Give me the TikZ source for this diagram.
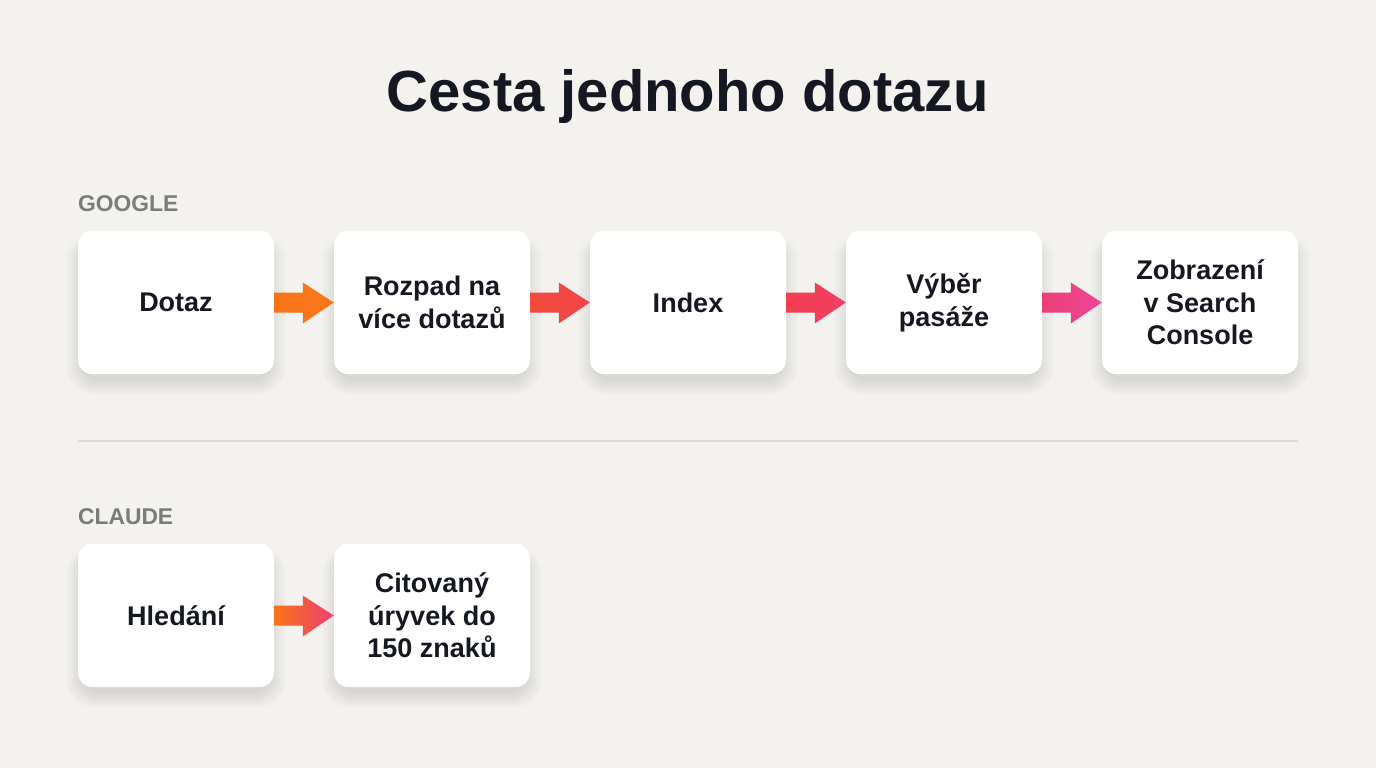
\documentclass[tikz,border=0pt]{standalone}
\usepackage{fontspec}
\setmainfont{Liberation Sans}
\usetikzlibrary{calc}
\definecolor{bg}{HTML}{F3F2EF}
\definecolor{ink}{HTML}{151821}
\definecolor{lab}{HTML}{7B7B7B}
\definecolor{rule}{HTML}{DCDBD8}
\definecolor{cA}{HTML}{F97316}
\definecolor{cB}{HTML}{F7791C}
\definecolor{cC}{HTML}{F24B3C}
\definecolor{cD}{HTML}{EF4448}
\definecolor{cE}{HTML}{F23F52}
\definecolor{cF}{HTML}{F03F62}
\definecolor{cG}{HTML}{EC3F76}
\definecolor{cH}{HTML}{EC4899}
\tikzset{
  card/.style={rectangle, rounded corners=14pt, fill=white, minimum width=196pt, minimum height=143pt,
    align=center, text=ink, font=\bfseries\fontsize{27}{32.5}\selectfont, inner sep=0pt},
  rowlabel/.style={anchor=west, text=lab, font=\bfseries\fontsize{22.8}{26}\selectfont, inner sep=0pt},
}
\newcommand{\softshadow}[1]{%
  \foreach \k in {1,...,14}{
    \fill[black, opacity=0.006, rounded corners=14pt+\k*1pt]
      ($(#1.south west)+(6pt-\k*1.3pt,-4pt-\k*1.2pt)$) rectangle ($(#1.north east)+(-6pt+\k*1.3pt,-14pt+\k*0.9pt)$);
  }}
\newcommand{\flowarrow}[4]{%
  \path[left color=#3, right color=#4]
    ($(#1.east)+(0,10pt)$) -- ($(#2.west)+(-31pt,10pt)$) -- ($(#2.west)+(-31pt,20pt)$) --
    ($(#2.west)+(0,0)$) -- ($(#2.west)+(-31pt,-21pt)$) -- ($(#2.west)+(-31pt,-10pt)$) --
    ($(#1.east)+(0,-10pt)$) -- cycle;}
\begin{document}
\begin{tikzpicture}[x=1pt,y=-1pt]
\fill[bg] (0,0) rectangle (1376,768);
\useasboundingbox (0,0) rectangle (1376,768);

\node[text=ink, font=\bfseries\fontsize{58}{64}\selectfont, inner sep=0pt] (title) at (688,97) {Cesta jednoho dotazu};

\node[rowlabel] (google) at (78,203.5) {GOOGLE};
\node[rowlabel] (claude) at (78,516.5) {CLAUDE};

\coordinate (ruleL) at (78,441);
\coordinate (ruleR) at (1298,441);
\draw[rule, line width=1.2pt] (ruleL) -- (ruleR);

% geometry placeholders for shadows
\path (176,302.5) node[card, fill=none] (g1s) {}
      (432,302.5) node[card, fill=none] (g2s) {}
      (688,302.5) node[card, fill=none] (g3s) {}
      (944,302.5) node[card, fill=none] (g4s) {}
      (1200,302.5) node[card, fill=none] (g5s) {}
      (176,615.5) node[card, fill=none] (c1s) {}
      (432,615.5) node[card, fill=none] (c2s) {};
\softshadow{g1s}\softshadow{g2s}\softshadow{g3s}\softshadow{g4s}\softshadow{g5s}
\softshadow{c1s}\softshadow{c2s}

\node[card] (g1) at (176,302.5) {Dotaz};
\node[card] (g2) at (432,302.5) {Rozpad na\\více dotazů};
\node[card] (g3) at (688,302.5) {Index};
\node[card] (g4) at (944,302.5) {Výběr\\pasáže};
\node[card] (g5) at (1200,302.5) {Zobrazení\\v Search\\Console};

\node[card] (c1) at (176,615.5) {Hledání};
\node[card] (c2) at (432,615.5) {Citovaný\\úryvek do\\150 znaků};

\flowarrow{g1}{g2}{cA}{cB}
\flowarrow{g2}{g3}{cC}{cD}
\flowarrow{g3}{g4}{cE}{cF}
\flowarrow{g4}{g5}{cG}{cH}
\flowarrow{c1}{c2}{cA}{cG}
\end{tikzpicture}
\end{document}
